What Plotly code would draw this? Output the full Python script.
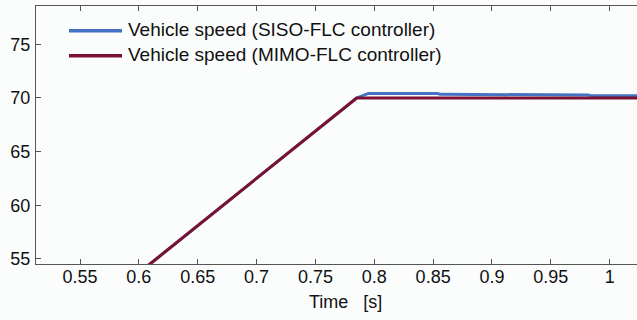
import plotly.graph_objects as go

# ---- data ----
t_siso = [0.600, 0.785, 0.795, 0.854, 0.856, 0.903, 0.905, 0.982, 0.984, 1.030]
v_siso = [53.7, 70.0, 70.42, 70.42, 70.34, 70.34, 70.28, 70.28, 70.20, 70.20]
t_mimo = [0.600, 0.785, 1.030]
v_mimo = [53.7, 70.0, 70.0]
x_ticks = [0.55, 0.6, 0.65, 0.7, 0.75, 0.8, 0.85, 0.9, 0.95, 1.0]
x_tick_labels = ["0.55", "0.6", "0.65", "0.7", "0.75", "0.8", "0.85", "0.9", "0.95", "1"]
y_ticks = [55, 60, 65, 70, 75]
y_tick_labels = ["55", "60", "65", "70", "75"]
names = ["Vehicle speed (SISO-FLC controller)", "Vehicle speed (MIMO-FLC controller)"]
colors = ["#4573c4", "#7c1232"]
x_title = "Time\u00a0\u00a0\u00a0[s]"

W, H = 637, 320
ML, MR, MT, MB = 36, 0, 6, 56
PW, PH = W - ML - MR, H - MT - MB

def px_x(px):
    return (px - ML) / PW

def px_y(py):
    return (H - MB - py) / PH

FONT = "Liberation Sans, Arial, sans-serif"

fig = go.Figure()
fig.add_trace(go.Scatter(x=t_siso, y=v_siso, mode="lines", name=names[0],
                         line=dict(color=colors[0], width=3), showlegend=False))
fig.add_trace(go.Scatter(x=t_mimo, y=v_mimo, mode="lines", name=names[1],
                         line=dict(color=colors[1], width=3), showlegend=False))

# manual legend
for i, (nm, c) in enumerate(zip(names, colors)):
    ly = 30.7 + i * 25
    fig.add_shape(type="line", xref="paper", yref="paper",
                  x0=px_x(69), x1=px_x(122), y0=px_y(ly), y1=px_y(ly),
                  line=dict(color=c, width=3.5))
    fig.add_annotation(xref="paper", yref="paper", x=px_x(126), y=px_y(ly - 1.5),
                       xanchor="left", yanchor="middle", showarrow=False,
                       text=nm, font=dict(family=FONT, size=19, color="#111"))

# x axis title
fig.add_annotation(xref="paper", yref="paper", x=px_x(345), y=px_y(302),
                   xanchor="center", yanchor="middle", showarrow=False,
                   text=x_title, font=dict(family=FONT, size=18, color="#111"))

axis_common = dict(showline=True, linecolor="#555", linewidth=1, ticks="inside",
                   ticklen=5, tickcolor="#555", tickwidth=1, showgrid=False, zeroline=False,
                   tickfont=dict(family=FONT, size=18, color="#111"))

fig.update_xaxes(range=[0.5126, 1.0232], tickvals=x_ticks, ticktext=x_tick_labels,
                 mirror="ticks", ticklabelstandoff=-4, **axis_common)
fig.update_yaxes(range=[54.53, 78.57], tickvals=y_ticks, ticktext=y_tick_labels,
                 mirror=False, ticklabelstandoff=1, **axis_common)

fig.update_layout(width=W, height=H, margin=dict(l=ML, r=MR, t=MT, b=MB),
                  paper_bgcolor="#fbfdfd", plot_bgcolor="#fbfdfd",
                  font=dict(family=FONT, size=18, color="#111"))

fig.write_html("out.html", config={"displayModeBar": False},
               post_script="document.body.style.margin='0';document.body.style.overflow='hidden';")
